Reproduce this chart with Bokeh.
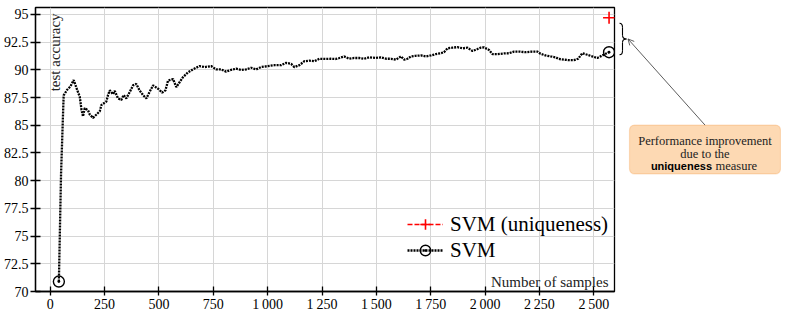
from math import pi
from bokeh.plotting import figure
from bokeh.layouts import row
from bokeh.models import (Range1d, FixedTicker, Legend, LegendItem, Label,
                          Arrow, OpenHead, BoxAnnotation)
from bokeh.embed import file_html
from bokeh.resources import INLINE

# ---------------- data ----------------
samples = [40, 50, 62, 78, 93, 108, 124, 136, 144, 151, 159, 174, 182, 197,
           213, 228, 236, 258, 266, 274, 289, 297, 312, 327, 338, 350, 366,
           381, 396, 411, 427, 442, 457, 473, 496, 515, 530, 542, 565, 580,
           595, 610, 633, 656, 687, 710, 740, 763, 786, 809, 832, 855, 878,
           901, 924, 947, 970, 1001, 1031, 1062, 1085, 1108, 1123, 1146, 1169,
           1192, 1215, 1238, 1268, 1291, 1314, 1330, 1352, 1375, 1398, 1421,
           1444, 1467, 1498, 1521, 1544, 1567, 1590, 1613, 1628, 1643, 1659,
           1682, 1705, 1728, 1751, 1773, 1796, 1811, 1827, 1850, 1873, 1896,
           1919, 1942, 1965, 1980, 1995, 2018, 2034, 2057, 2087, 2110, 2133,
           2156, 2186, 2217, 2240, 2255, 2278, 2301, 2324, 2339, 2362, 2385,
           2408, 2428, 2447, 2470, 2493, 2516, 2539, 2554, 2570]
svm_acc = [70.9, 80.6, 87.7, 88.2, 88.5, 89.08, 88.2, 87.57, 86.4, 85.8, 86.55,
           86.35, 85.97, 85.67, 85.97, 86.26, 86.84, 87.13, 87.72, 88.15, 87.8,
           88.1, 87.42, 87.28, 87.72, 87.42, 88.0, 88.6, 88.73, 88.15, 87.72,
           87.42, 88.0, 88.6, 88.3, 87.95, 88.15, 89.03, 89.17, 88.44, 88.88,
           89.32, 89.76, 90.04, 90.34, 90.25, 90.34, 90.04, 90.04, 89.84, 89.99,
           90.1, 89.99, 90.04, 90.19, 90.04, 90.25, 90.34, 90.42, 90.42, 90.63,
           90.54, 90.25, 90.42, 90.78, 90.83, 90.78, 91.0, 90.98, 91.0, 90.98,
           91.07, 91.21, 91.0, 91.07, 91.07, 91.0, 91.13, 91.07, 91.13, 91.0,
           91.0, 90.92, 91.21, 90.92, 91.0, 91.21, 91.27, 91.3, 91.21, 91.3,
           91.42, 91.5, 91.59, 91.94, 92.0, 92.05, 91.94, 92.0, 91.7, 91.88,
           92.0, 92.03, 91.79, 91.42, 91.42, 91.48, 91.5, 91.65, 91.65, 91.59,
           91.65, 91.65, 91.45, 91.3, 91.21, 91.13, 90.98, 90.92, 90.87, 90.87,
           91.0, 91.5, 91.36, 91.21, 91.07, 91.3, 91.45, 91.59]
uniq_samples = [2570]
uniq_acc = [94.7]

x_ticks = [0, 250, 500, 750, 1000, 1250, 1500, 1750, 2000, 2250, 2500]
x_tick_labels = ["0", "250", "500", "750", "1\u2009000", "1\u2009250",
                 "1\u2009500", "1\u2009750", "2\u2009000", "2\u2009250",
                 "2\u2009500"]
y_ticks = [70, 72.5, 75, 77.5, 80, 82.5, 85, 87.5, 90, 92.5, 95]
y_tick_labels = ["70", "72.5", "75", "77.5", "80", "82.5", "85", "87.5",
                 "90", "92.5", "95"]

# ---------------- layout (canvas pixels) ----------------
H = 314
C1_W = 617                    # main figure canvas width
C2_W = 164                    # callout canvas width  (total 781)
FL, FR, FT, FB = 34, 614, 7, 294
XS = 0.21784                  # px per sample
X0PX = 48.7                   # canvas x of sample 0
XR = ((FL - X0PX) / XS, (FR - X0PX) / XS)
YS = (FB - 14) / 25.0         # 95 drawn at y = 14
YR = (70.0, 70.0 + (FB - FT) / YS)
SERIF = "Liberation Serif"


def dx(px):
    return XR[0] + (px - FL) / XS


def dy(py):
    return YR[0] + (FB - py) / YS


def canvas_y(v):
    return FB - (v - YR[0]) * YS


p = figure(width=C1_W, height=H, x_range=Range1d(*XR),
           y_range=Range1d(*YR), output_backend="svg", toolbar_location=None,
           min_border_left=FL, min_border_right=C1_W - FR,
           min_border_top=FT, min_border_bottom=H - FB)
p.background_fill_color = "white"
p.border_fill_color = "white"
p.outline_line_color = "black"
p.outline_line_width = 1.3
p.outline_line_alpha = 1

p.xaxis.ticker = FixedTicker(ticks=x_ticks)
p.yaxis.ticker = FixedTicker(ticks=y_ticks)
p.xaxis.major_label_overrides = {t: l for t, l in zip(x_ticks, x_tick_labels)}
p.yaxis.major_label_overrides = {t: l for t, l in zip(y_ticks, y_tick_labels)}
for ax in (p.xaxis[0], p.yaxis[0]):
    ax.axis_line_color = "black"
    ax.axis_line_width = 1.3
    ax.major_tick_line_color = "black"
    ax.major_tick_line_width = 1.3
    ax.minor_tick_line_color = None
    ax.major_tick_in = 5
    ax.major_label_text_font = SERIF
    ax.major_label_text_font_size = "14px"
    ax.major_label_text_color = "black"
p.xaxis.major_tick_out = 4
p.xaxis.major_label_standoff = 1
p.yaxis.major_tick_out = 5
p.yaxis.major_label_standoff = 2

p.grid.grid_line_color = "#d6d6d6"
p.grid.grid_line_width = 1

# ---------------- series ----------------
svm_line = p.line(samples, svm_acc, line_color="black", line_width=2.3,
                  line_dash="2 1")
svm_ends = p.scatter([samples[0], samples[-1]], [svm_acc[0], svm_acc[-1]],
                     marker="circle_dot", size=11, fill_color=None,
                     line_color="black", line_width=1.4)
uniq_line = p.line(uniq_samples, uniq_acc, line_color="red", line_width=1.6,
                   line_dash="5 2")
uniq_mark = p.scatter(uniq_samples, uniq_acc, marker="cross", size=12,
                      line_color="red", line_width=1.6)

legend = Legend(items=[LegendItem(label="SVM (uniqueness)",
                                  renderers=[uniq_line, uniq_mark]),
                       LegendItem(label="SVM", renderers=[svm_line, svm_ends])],
                location=(406 - FL, 28), padding=0, margin=0,
                spacing=0, glyph_width=36, glyph_height=26, label_height=26,
                label_standoff=7, label_text_font=SERIF,
                label_text_font_size="21px", label_text_color="black",
                border_line_alpha=0, background_fill_alpha=0)
p.add_layout(legend)

p.add_layout(Label(x=dx(46), y=dy(13), text="test accuracy", angle=pi / 2,
                   text_align="right", text_baseline="top", text_font=SERIF,
                   text_font_size="15px", text_color="#222222"))
p.add_layout(Label(x=dx(608), y=dy(284), text="Number of samples",
                   text_align="right", text_baseline="alphabetic",
                   text_font=SERIF, text_font_size="15px",
                   text_color="#222222"))

# ---------------- callout panel (canvas coordinates) ----------------
C2_L = C1_W
C2_R = C1_W + C2_W
q = figure(width=C2_W, height=H, x_range=Range1d(C2_L, C2_R),
           y_range=Range1d(H, 0), output_backend="svg",
           toolbar_location=None, x_axis_type=None, y_axis_type=None,
           min_border=0, min_border_left=0, min_border_right=0,
           min_border_top=0, min_border_bottom=0)
q.grid.visible = False
q.outline_line_color = None
q.background_fill_color = "white"
q.border_fill_color = "white"

BOX_L, BOX_R, BOX_T, BOX_B = 629, 780, 130, 184
BCX = (BOX_L + BOX_R) / 2
q.add_layout(BoxAnnotation(left=BOX_L, right=BOX_R, top=BOX_T, bottom=BOX_B,
                           fill_color="#fdd9b3", fill_alpha=1,
                           line_color="#f4a04e", line_width=1.2,
                           border_radius=5))
for txt, base in (("Performance improvement", 147.5), ("due to the", 161.5)):
    q.add_layout(Label(x=BCX, y=base, text=txt, text_align="center",
                       text_baseline="alphabetic", text_font=SERIF,
                       text_font_size="12.5px", text_color="#222222"))
q.add_layout(Label(x=BCX + 7, y=175.5, text="uniqueness", text_align="right",
                   text_baseline="alphabetic", text_font="Liberation Sans",
                   text_font_style="bold", text_font_size="11px",
                   text_color="black"))
q.add_layout(Label(x=BCX + 10.5, y=175.5, text="measure", text_align="left",
                   text_baseline="alphabetic", text_font=SERIF,
                   text_font_size="12.5px", text_color="#222222"))

# brace spanning the gap between the two final accuracies
yt = canvas_y(uniq_acc[-1])
yb = canvas_y(svm_acc[-1])
ym = (yt + yb) / 2
bx0, bx1, bx2 = 619.0, 622.0, 626.0
q.bezier(x0=[bx0, bx1, bx1, bx2, bx1, bx1],
         y0=[yt, yt + 4.5, ym - 4, ym, ym + 4, yb - 4.5],
         x1=[bx1, bx1, bx2, bx1, bx1, bx0],
         y1=[yt + 4.5, ym - 4, ym, ym + 4, yb - 4.5, yb],
         cx0=[bx1 - 0.5, bx1, bx1, bx2 - 2, bx1, bx1],
         cy0=[yt, yt + 4.5, ym - 1, ym, ym + 4, yb - 2],
         cx1=[bx1, bx1, bx2 - 2, bx1, bx1, bx1 - 0.5],
         cy1=[yt + 2, ym - 4, ym, ym + 1, yb - 4.5, yb],
         line_color="black", line_width=1.1)

q.add_layout(Arrow(x_start=BCX, y_start=BOX_T, x_end=bx2 + 1.5, y_end=ym,
                   line_width=0.8, line_color="#333333",
                   end=OpenHead(size=6, line_width=0.8,
                                line_color="#333333")))

layout = row(p, q, spacing=0)
open("out.html", "w").write(file_html(layout, INLINE))
